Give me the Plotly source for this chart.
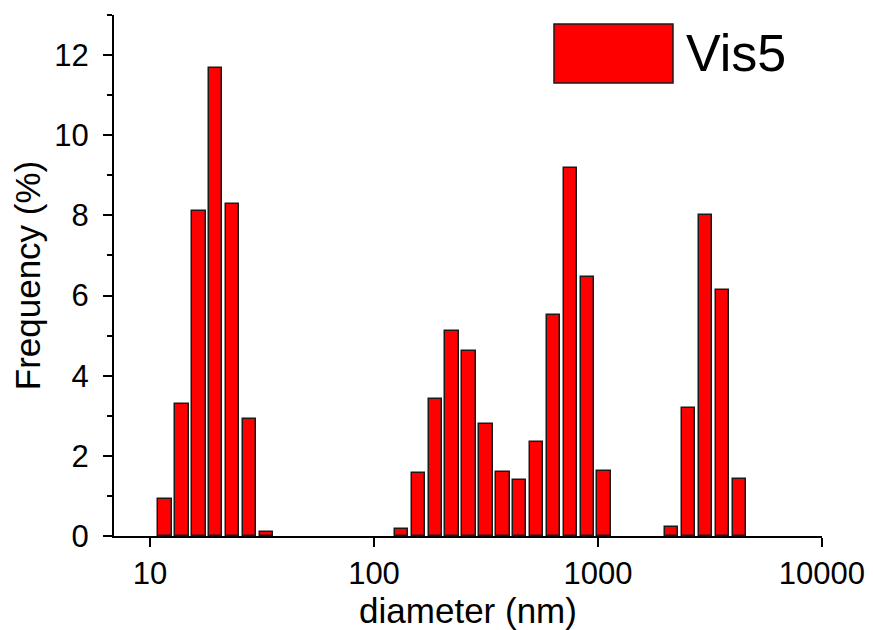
import numpy as np
import plotly.graph_objects as go

# diameters (nm) of the size classes
diameters = [11.67, 13.88, 16.51, 19.64, 23.37, 27.80, 33.07,
             132.7, 157.8, 187.8, 223.4, 265.8, 316.2, 376.1, 447.4,
             532.3, 633.2, 753.3, 896.1, 1066.0,
             2135.0, 2540.0, 3022.0, 3595.0, 4276.0]
# frequency (%)
frequency = [0.92, 3.29, 8.11, 11.68, 8.28, 2.92, 0.11,
             0.17, 1.57, 3.43, 5.11, 4.61, 2.80, 1.60, 1.39,
             2.34, 5.52, 9.18, 6.46, 1.62,
             0.23, 3.20, 8.00, 6.14, 1.42]
series_name = "Vis5"
x_tick_values = [10, 100, 1000, 10000]
x_tick_labels = ["10", "100", "1000", "10000"]

FONT = "Arial, Liberation Sans, sans-serif"

logd = np.log10(diameters)

fig = go.Figure()
fig.add_trace(go.Bar(
    x=logd, y=frequency, width=0.0603,
    marker=dict(color="#FF0000", line=dict(color="#1a1a1a", width=1.5)),
    name=series_name, showlegend=False,
))

# page body adds an 8px offset; figure sized to fit the 873x630 window
fig.update_layout(
    width=865, height=622,
    margin=dict(l=106, r=51, t=7, b=94),
    plot_bgcolor="white", paper_bgcolor="white",
    font=dict(family=FONT, color="black"),
    bargap=0,
)
fig.update_xaxes(
    range=[0.839, 4.0005], automargin=False,
    tickvals=list(np.log10(x_tick_values)), ticktext=x_tick_labels,
    showline=True, linecolor="black", linewidth=2,
    ticks="outside", ticklen=9, tickwidth=2, tickcolor="black",
    showgrid=False, zeroline=False,
    tickfont=dict(size=31, family=FONT),
    title=dict(text="diameter (nm)", font=dict(size=35, family=FONT), standoff=0),
)
fig.update_yaxes(
    range=[0, 13.0], automargin=False,
    dtick=2, tick0=0,
    showline=True, linecolor="black", linewidth=2,
    ticks="outside", ticklen=9, tickwidth=2, tickcolor="black",
    minor=dict(dtick=1, ticks="outside", ticklen=5, tickwidth=2, tickcolor="black"),
    showgrid=False, zeroline=False,
    tickfont=dict(size=31, family=FONT), ticklabelstandoff=8,
    title=dict(text="Frequency (%)", font=dict(size=35, family=FONT), standoff=10),
)

# legend drawn as a swatch + label
fig.add_shape(type="rect", xref="paper", yref="paper",
              x0=(554 - 114) / 708, x1=(673 - 114) / 708,
              y0=(536 - 83) / 521, y1=(536 - 24) / 521,
              fillcolor="#FF0000", line=dict(color="#1a1a1a", width=1.5))
fig.add_annotation(xref="paper", yref="paper",
                   x=(684 - 114) / 708, y=(536 - 53) / 521,
                   xanchor="left", yanchor="middle", showarrow=False,
                   text=series_name, font=dict(size=52, family=FONT, color="black"))

fig.write_html("out.html")
